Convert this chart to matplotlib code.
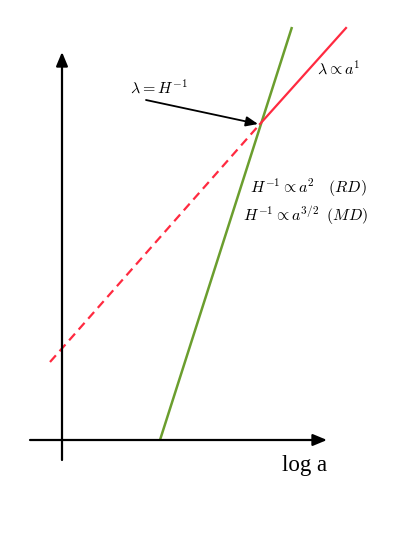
import matplotlib
matplotlib.use("Agg")
import matplotlib.pyplot as plt

plt.rcParams['mathtext.fontset'] = 'cm'

# Schematic coordinates (canvas units, y upward)
xaxis_x = [30, 327]
xaxis_y = [97, 97]
yaxis_x = [62, 62]
yaxis_y = [77, 485]

green_x = [160, 292]
green_y = [97, 510]

red_dash_x = [50, 260]
red_dash_y = [175, 413]
red_solid_x = [260, 346]
red_solid_y = [413, 509]

fig = plt.figure(figsize=(4.15, 5.37), dpi=100)
ax = fig.add_axes([0, 0, 1, 1])
ax.set_xlim(0, 415)
ax.set_ylim(0, 537)
ax.axis('off')

# axes arrows
ax.annotate('', xy=(xaxis_x[1], xaxis_y[1]), xytext=(xaxis_x[0], xaxis_y[0]),
            arrowprops=dict(arrowstyle='-|>,head_length=0.6,head_width=0.25', color='black', lw=1.6,
                            mutation_scale=14, shrinkA=0, shrinkB=0))
ax.annotate('', xy=(yaxis_x[1], yaxis_y[1]), xytext=(yaxis_x[0], yaxis_y[0]),
            arrowprops=dict(arrowstyle='-|>,head_length=0.6,head_width=0.25', color='black', lw=1.6,
                            mutation_scale=14, shrinkA=0, shrinkB=0))

ax.plot(green_x, green_y, color='#6b9e2e', lw=1.8, solid_capstyle='butt')
ax.plot(red_dash_x, red_dash_y, color='#ff2a40', lw=1.6, ls=(0, (4, 2.5)))
ax.plot(red_solid_x, red_solid_y, color='#ff2a40', lw=1.6)

ax.annotate('', xy=(258, 413), xytext=(146, 437),
            arrowprops=dict(arrowstyle='-|>,head_length=0.6,head_width=0.25', color='black', lw=1.3,
                            mutation_scale=12, shrinkA=0, shrinkB=0))

ax.text(159, 450, r'$\lambda = H^{-1}$', fontsize=11.5, ha='center', va='center')
ax.text(339, 469, r'$\lambda \propto a^{1}$', fontsize=11.5, ha='center', va='center')
ax.text(250, 349, r'$H^{-1} \propto a^{2}\quad (RD)$', fontsize=11.5, ha='left', va='center')
ax.text(243, 321, r'$H^{-1} \propto a^{3/2}\;\;(MD)$', fontsize=11.5, ha='left', va='center')
ax.text(305, 71, 'log a', fontsize=16.5, family='Liberation Serif', ha='center', va='center')

fig.savefig('out.png', dpi=100)
